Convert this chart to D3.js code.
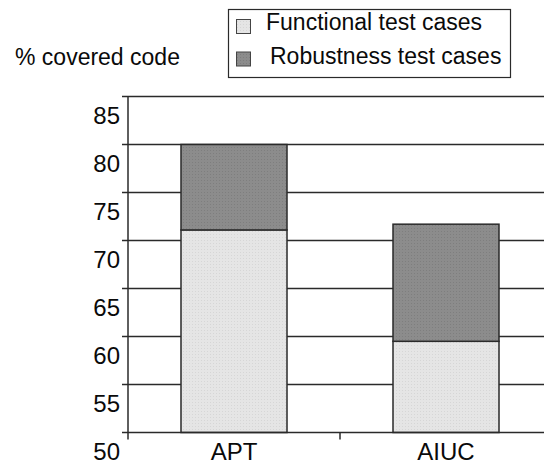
<!DOCTYPE html>
<html>
<head>
<meta charset="utf-8">
<script src="https://cdn.jsdelivr.net/npm/d3@7"></script>
<style>
  html, body { margin: 0; padding: 0; background: #fff; }
  svg { display: block; font-family: Arial, "Liberation Sans", sans-serif; }
</style>
</head>
<body>
<svg id="chart" width="544" height="466"></svg>
<script>
const categories = ["APT", "AIUC"];
const seriesNames = ["Functional test cases", "Robustness test cases"];
const functionalValues = [71.1, 59.5];
const robustnessTotals = [80.0, 71.7];   // top of stacked bar
const yTicks = [50, 55, 60, 65, 70, 75, 80, 85];
const yLabel = "% covered code";

const colors = { functional: "#e5e5e5", robustness: "#8c8c8c", line: "#2a2a2a" };

const svg = d3.select("#chart");
const x0 = 128, x1 = 552, yTop = 96.5, yBot = 432.5;

const x = d3.scaleBand().domain(categories).range([x0, x1]).paddingInner(0.5).paddingOuter(0.25);
const y = d3.scaleLinear().domain([50, 85]).range([yBot, yTop]);

// dotted texture patterns
const defs = svg.append("defs");
function pattern(id, base, dot) {
  const p = defs.append("pattern").attr("id", id).attr("width", 3).attr("height", 3)
    .attr("patternUnits", "userSpaceOnUse");
  p.append("rect").attr("width", 3).attr("height", 3).attr("fill", base);
  p.append("rect").attr("x", 0).attr("y", 0).attr("width", 1).attr("height", 1).attr("fill", dot);
}
pattern("pf", colors.functional, "#d6d6d6");
pattern("pr", colors.robustness, "#7e7e7e");

// gridlines (with left tick extension)
svg.append("g").selectAll("line").data(yTicks.filter(d => d > 50)).join("line")
  .attr("x1", x0 - 6).attr("x2", 544)
  .attr("y1", d => y(d)).attr("y2", d => y(d))
  .attr("stroke", colors.line).attr("stroke-width", 1.5);

// y tick labels (placed below each line as in reference)
svg.append("g").selectAll("text").data(yTicks).join("text")
  .attr("x", 120).attr("y", d => y(d) + 19)
  .attr("text-anchor", "end").attr("dominant-baseline", "central")
  .attr("font-size", 24).attr("fill", "#0a0a0a")
  .text(d => d);

// bars
const rows = categories.map((c, i) => ({ c, f: functionalValues[i], t: robustnessTotals[i] }));
const bars = svg.append("g");
bars.selectAll("rect.f").data(rows).join("rect").attr("class", "f")
  .attr("x", d => x(d.c)).attr("width", x.bandwidth())
  .attr("y", d => y(d.f)).attr("height", d => y(50) - y(d.f))
  .attr("fill", "url(#pf)").attr("stroke", colors.line).attr("stroke-width", 1.5);
bars.selectAll("rect.r").data(rows).join("rect").attr("class", "r")
  .attr("x", d => x(d.c)).attr("width", x.bandwidth())
  .attr("y", d => y(d.t)).attr("height", d => y(d.f) - y(d.t))
  .attr("fill", "url(#pr)").attr("stroke", colors.line).attr("stroke-width", 1.5);

// y axis line
svg.append("line").attr("x1", x0).attr("x2", x0).attr("y1", yTop).attr("y2", yBot + 7)
  .attr("stroke", colors.line).attr("stroke-width", 1.5);
// x axis line
svg.append("line").attr("x1", x0 - 6).attr("x2", 544).attr("y1", yBot).attr("y2", yBot)
  .attr("stroke", colors.line).attr("stroke-width", 1.5);
// x category separator ticks
const step = x.step();
const sepTicks = categories.slice(1).map(c => x(c) - step * x.paddingInner() / 2);
svg.append("g").selectAll("line").data(sepTicks).join("line")
  .attr("x1", d => d).attr("x2", d => d).attr("y1", yBot).attr("y2", yBot + 7)
  .attr("stroke", colors.line).attr("stroke-width", 1.5);

// category labels
svg.append("g").selectAll("text").data(categories).join("text")
  .attr("x", d => x(d) + x.bandwidth() / 2).attr("y", 460)
  .attr("text-anchor", "middle").attr("font-size", 24).attr("fill", "#0a0a0a")
  .text(d => d);

// y label
svg.append("text").attr("x", 15).attr("y", 65).attr("font-size", 23).attr("fill", "#0a0a0a").text(yLabel);

// legend
const lg = svg.append("g");
lg.append("rect").attr("x", 228.5).attr("y", 9.5).attr("width", 282).attr("height", 68)
  .attr("fill", "#fff").attr("stroke", colors.line).attr("stroke-width", 1.2);
const legendFills = ["url(#pf)", "url(#pr)"];
seriesNames.forEach((s, i) => {
  lg.append("rect").attr("x", 236.5).attr("y", 19.5 + i * 32.5).attr("width", 14).attr("height", 14)
    .attr("fill", legendFills[i]).attr("stroke", "#444").attr("stroke-width", 1);
  lg.append("text").attr("x", i === 0 ? 266 : 270).attr("y", 30 + i * 34)
    .attr("font-size", 23).attr("fill", "#0a0a0a").text(s);
});
</script>
</body>
</html>
